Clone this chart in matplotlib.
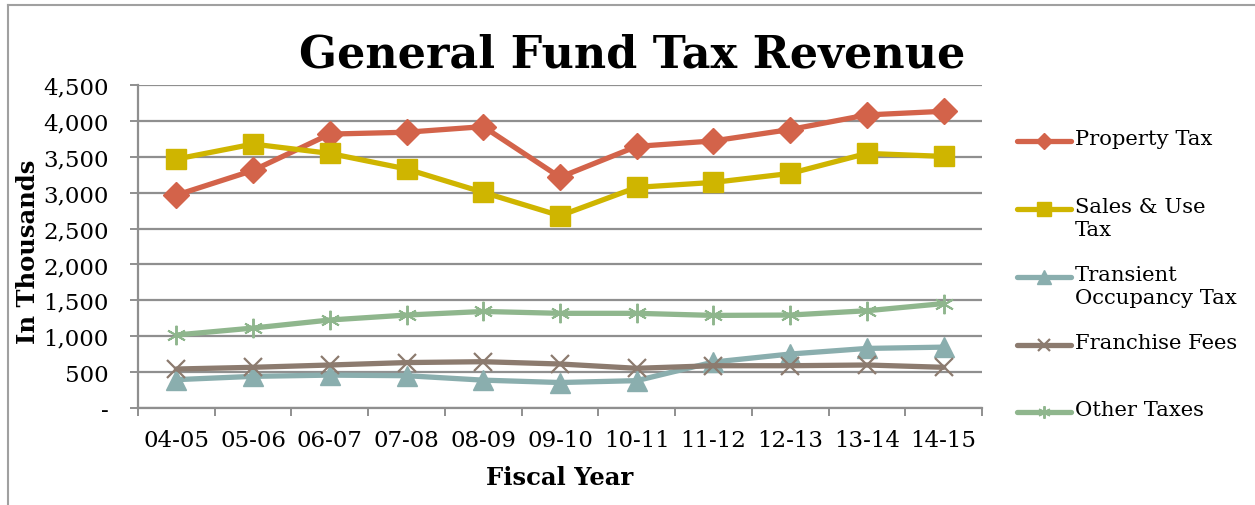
import matplotlib
matplotlib.use("Agg")
import matplotlib.pyplot as plt
from matplotlib.lines import Line2D
from matplotlib.ticker import FixedLocator, FixedFormatter

plt.rcParams['font.family'] = ['DejaVu Serif']

years = ["04-05", "05-06", "06-07", "07-08", "08-09", "09-10",
         "10-11", "11-12", "12-13", "13-14", "14-15"]

property_tax = [2966, 3310, 3816, 3842, 3920, 3215, 3645, 3721, 3880, 4083, 4134]
sales_use_tax = [3468, 3677, 3547, 3330, 3004, 2679, 3074, 3143, 3268, 3547, 3505]
transient_occupancy = [395, 441, 458, 450, 388, 355, 381, 640, 752, 830, 848]
franchise_fees = [543, 567, 599, 633, 645, 613, 553, 589, 589, 599, 567]
other_taxes = [1017, 1114, 1226, 1295, 1345, 1319, 1319, 1290, 1295, 1355, 1455]

series = [
    ("Property Tax", property_tax, "#D3634A", "D", 13),
    ("Sales & Use\nTax", sales_use_tax, "#CFB500", "s", 14),
    ("Transient\nOccupancy Tax", transient_occupancy, "#8AAEAE", "^", 14),
    ("Franchise Fees", franchise_fees, "#8C7B6F", "x", 14),
    ("Other Taxes", other_taxes, "#8FB68D", "*", 14),
]

W, H = 1255, 506
fig = plt.figure(figsize=(W / 100, H / 100), dpi=100)
ax = fig.add_axes([138 / W, 1 - 409 / H, (982 - 138) / W, (409 - 86) / H])

x = list(range(len(years)))
grid_color = "#8F8F8F"


def marker_style(mk, color, ms):
    if mk == "*":
        return dict(marker=(6, 2, 0), ms=ms, mec=color, mew=1.4)
    if mk == "x":
        return dict(marker="x", ms=ms - 1, mec=color, mew=1.6)
    return dict(marker=mk, ms=ms, mec=color, mfc=color)


for label, vals, color, mk, ms in series:
    ax.plot(x, vals, color=color, lw=3.8, zorder=3, solid_capstyle="round",
            **marker_style(mk, color, ms))

ax.set_xlim(-0.5, len(years) - 0.5)
ax.set_ylim(0, 4500)

yt = list(range(0, 4501, 500))
ylabels = ["-"] + [f"{v:,}" for v in yt[1:]]
ax.yaxis.set_major_locator(FixedLocator(yt))
ax.yaxis.set_major_formatter(FixedFormatter(ylabels))
ax.grid(axis="y", color=grid_color, lw=1.6, zorder=1)
ax.set_axisbelow(True)

ax.set_xticks(x)
ax.set_xticklabels(years)
ax.set_xticks([i - 0.5 for i in range(len(years) + 1)], minor=True)
ax.tick_params(axis="x", which="major", length=0, pad=15, labelsize=16.5)
ax.tick_params(axis="x", which="minor", length=6, width=1.4, color=grid_color, direction="out")
ax.tick_params(axis="y", length=6, width=1.4, color=grid_color, labelsize=16.5, pad=15)

for side in ("top", "right"):
    ax.spines[side].set_visible(False)
for side in ("left", "bottom"):
    ax.spines[side].set_color(grid_color)
    ax.spines[side].set_linewidth(1.6)

fig.text(560 / W, 1 - 478 / H, "Fiscal Year", ha="center", va="center",
         fontsize=17.5, fontweight="bold")
fig.text(28 / W, 1 - 252 / H, "In Thousands", ha="center", va="center",
         rotation=90, fontsize=17.5, fontweight="bold")

fig.text(632 / W, 1 - 55 / H, "General Fund Tax Revenue", ha="center", va="center",
         fontsize=32, fontweight="bold")

# legend drawn in figure pixels
leg_y = [142, 210, 278, 346, 413]
for (label, vals, color, mk, ms), yy in zip(series, leg_y):
    yf = 1 - yy / H
    xs = [1017 / W, 1044 / W, 1071 / W]
    style = marker_style(mk, color, 9)
    if mk == "D":
        style["ms"] = 8
    elif mk in ("s", "^"):
        style["ms"] = 10
    fig.add_artist(Line2D(xs, [yf] * 3, transform=fig.transFigure, color=color,
                          lw=3.8, markevery=[1], solid_capstyle="round", **style))
    fig.text(1075 / W, yf + 12 / H, label, ha="left", va="top", fontsize=15.2,
             linespacing=1.3)

# outer frame: left and top edges
fig.add_artist(Line2D([8 / W, 8 / W], [0, 1 - 6 / H], transform=fig.transFigure,
                      color="#A0A0A0", lw=1.5))
fig.add_artist(Line2D([8 / W, 1], [1 - 6 / H, 1 - 6 / H], transform=fig.transFigure,
                      color="#A0A0A0", lw=1.5))

fig.savefig("out.png", dpi=100)
